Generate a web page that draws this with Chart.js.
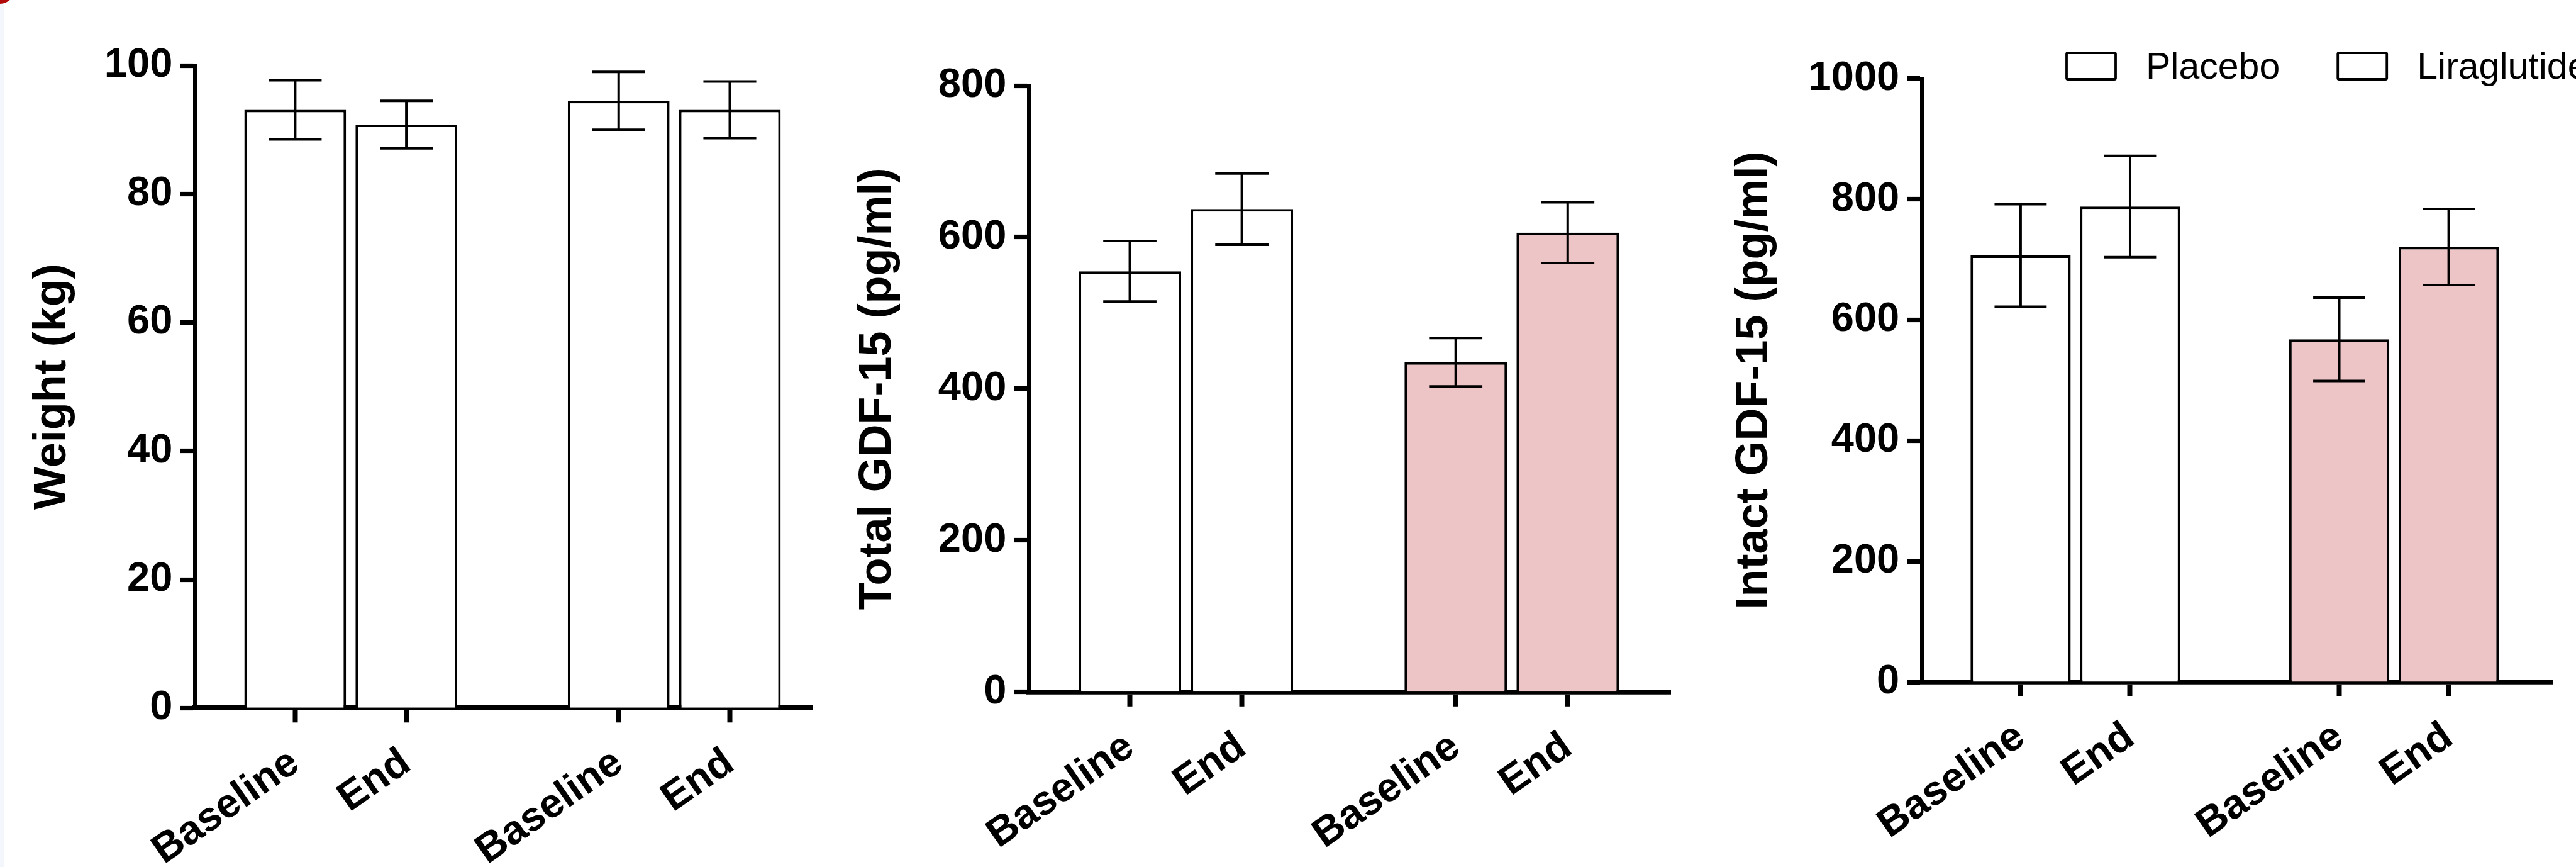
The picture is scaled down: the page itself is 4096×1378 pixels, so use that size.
<!DOCTYPE html>
<html lang="en">
<head>
<meta charset="UTF-8">
<title>Weight and GDF-15</title>
<script src="https://cdn.jsdelivr.net/npm/chart.js@4.4.1/dist/chart.umd.min.js"></script>
<style>
  html, body { margin: 0; padding: 0; background: #fff; overflow: hidden; }
  body { width: 4096px; height: 1378px; position: relative; }
  canvas { position: absolute; top: 0; }
  #c1 { left: 0; }
  #c2 { left: 1330px; }
  #c3 { left: 2680px; }
  /* bits of the page the figure was cut from */
  .edge { position: absolute; left: 0; top: 0; width: 7px; height: 1378px; background: #f3f6fa; }
  .dot { position: absolute; left: -23px; top: -40px; width: 46px; height: 46px; border-radius: 50%; background: #b10a0a; }
</style>
</head>
<body>
<div class="edge"></div>
<canvas id="c1" width="1330" height="1378"></canvas>
<canvas id="c2" width="1350" height="1378"></canvas>
<canvas id="c3" width="1416" height="1378"></canvas>
<div class="dot"></div>

<script>
// ---- data ----
const timepoints = ['Baseline', 'End', 'Baseline', 'End'];
const groups = ['Placebo', 'Liraglutide'];
const placeboX = [0.9, 1.9];
const liraX = [3.81, 4.81];

// Weight (kg), mean and SEM
const weightPlacebo = [93.1, 90.8];
const weightPlaceboSem = [4.6, 3.7];
const weightLira = [94.5, 93.1];
const weightLiraSem = [4.5, 4.4];

// Total GDF-15 (pg/ml)
const totalPlacebo = [555, 637];
const totalPlaceboSem = [40, 47];
const totalLira = [435, 606];
const totalLiraSem = [32, 40];

// Intact GDF-15 (pg/ml)
const intactPlacebo = [707, 788];
const intactPlaceboSem = [85, 84];
const intactLira = [568, 721];
const intactLiraSem = [69, 63];

// ---- drawing ----
const FONT = "'Liberation Sans', Arial, Helvetica, sans-serif";
const H = 1378;
const PINK = '#eec5c6';

function pts(xs, ys) {
    return xs.map((x, i) => ({ x: x, y: ys[i] }));
}

// mean +/- SEM whiskers on top of each bar
const errorBars = {
    id: 'errorBars',
    afterDatasetsDraw(chart) {
        const ctx = chart.ctx;
        const yScale = chart.scales.y;
        ctx.save();
        ctx.strokeStyle = '#000';
        ctx.lineWidth = 4;
        chart.data.datasets.forEach((ds, i) => {
            chart.getDatasetMeta(i).data.forEach((bar, j) => {
                const v = ds.data[j].y, e = ds.sem[j];
                const top = yScale.getPixelForValue(v + e);
                const bot = yScale.getPixelForValue(v - e);
                const half = bar.width * 0.26;
                ctx.beginPath();
                ctx.moveTo(bar.x, top); ctx.lineTo(bar.x, bot);
                ctx.moveTo(bar.x - half, top); ctx.lineTo(bar.x + half, top);
                ctx.moveTo(bar.x - half, bot); ctx.lineTo(bar.x + half, bot);
                ctx.stroke();
            });
        });
        ctx.restore();
    }
};

// legend as in the figure: open boxes, plain text
const boxLegend = {
    id: 'boxLegend',
    afterDraw(chart, args, o) {
        if (!o.show) return;
        const ctx = chart.ctx;
        ctx.save();
        ctx.font = '59px ' + FONT;
        ctx.textBaseline = 'alphabetic';
        let x = o.x;
        chart.data.datasets.forEach(ds => {
            ctx.fillStyle = '#fff';
            ctx.strokeStyle = '#000';
            ctx.lineWidth = 3.8;
            ctx.beginPath();
            ctx.roundRect(x, o.y, o.w, o.h, 2);
            ctx.fill();
            ctx.stroke();
            x += o.w + o.gap;
            ctx.fillStyle = '#000';
            ctx.fillText(ds.label, x, o.baseline);
            x += ctx.measureText(ds.label).width + o.space;
        });
        ctx.restore();
    }
};

function panel(id, g, placebo, placeboSem, lira, liraSem, liraColor) {
    new Chart(document.getElementById(id), {
        type: 'bar',
        data: {
            datasets: [
                { label: groups[0], data: pts(placeboX, placebo), sem: placeboSem, backgroundColor: '#fff' },
                { label: groups[1], data: pts(liraX, lira), sem: liraSem, backgroundColor: liraColor }
            ]
        },
        options: {
            responsive: false,
            animation: false,
            devicePixelRatio: 1,
            layout: { padding: { left: 0, top: g.top, right: g.right, bottom: 0 } },
            datasets: {
                bar: {
                    grouped: false,
                    borderColor: '#000',
                    borderWidth: 4,
                    categoryPercentage: 1,
                    barPercentage: 0.915
                }
            },
            plugins: {
                legend: { display: false },
                tooltip: { enabled: false },
                boxLegend: g.legend || { show: false }
            },
            scales: {
                x: {
                    type: 'linear',
                    bounds: 'data',
                    min: 0,
                    max: g.xMax,
                    offset: false,
                    afterBuildTicks: s => { s.ticks = placeboX.concat(liraX).map(v => ({ value: v })); },
                    afterFit: s => { s.height = H - g.bottom; },
                    grid: { offset: false, drawOnChartArea: false, drawTicks: true, tickLength: 23, tickWidth: 8, tickColor: '#000' },
                    border: { display: true, color: '#000', width: 7.7 },
                    ticks: {
                        autoSkip: false,
                        minRotation: 35,
                        maxRotation: 35,
                        padding: 26,
                        color: '#000',
                        font: { family: FONT, size: 65, weight: 'bold' },
                        callback: (v, i) => timepoints[i]
                    }
                },
                y: {
                    min: 0,
                    max: g.yMax,
                    afterFit: s => { s.width = g.axis; },
                    grid: { drawOnChartArea: false, drawTicks: true, tickLength: 24, tickWidth: 7.2, tickColor: '#000' },
                    border: { display: true, color: '#000', width: 6.8 },
                    ticks: {
                        stepSize: g.step,
                        padding: 12,
                        color: '#000',
                        font: { family: FONT, size: 65, weight: 'bold' },
                        callback: v => String(v)
                    },
                    title: {
                        display: true,
                        text: g.title,
                        color: '#000',
                        font: { family: FONT, size: 72, weight: 'bold' },
                        padding: { top: g.titlePad, bottom: 0 }
                    }
                }
            }
        },
        plugins: [errorBars, boxLegend]
    });
}

panel('c1',
    { axis: 310.3, top: 104, bottom: 1125.3, right: 38.7, titlePad: 40.8, xMax: 5.55, yMax: 100, step: 20, title: 'Weight (kg)' },
    weightPlacebo, weightPlaceboSem, weightLira, weightLiraSem, '#fff');

panel('c2',
    { axis: 306.3, top: 136, bottom: 1099.8, right: 23.4, titlePad: 22.6, xMax: 5.73, yMax: 800, step: 200, title: 'Total GDF-15 (pg/ml)' },
    totalPlacebo, totalPlaceboSem, totalLira, totalLiraSem, PINK);

panel('c3',
    { axis: 376.2, top: 124.9, bottom: 1084, right: 37, titlePad: 66.8, xMax: 5.76, yMax: 1000, step: 200, title: 'Intact GDF-15 (pg/ml)',
      legend: { show: true, x: 606, y: 84, w: 78, h: 42, gap: 48, space: 92, baseline: 125 } },
    intactPlacebo, intactPlaceboSem, intactLira, intactLiraSem, PINK);
</script>
</body>
</html>
